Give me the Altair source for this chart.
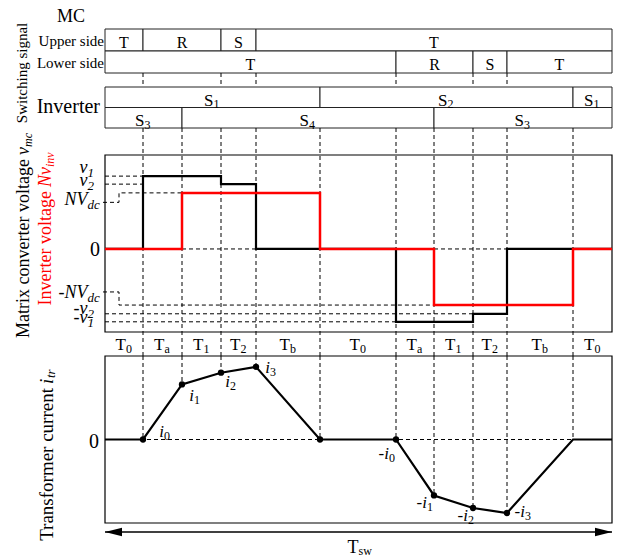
import altair as alt
import pandas as pd

# ---------------- data ----------------
# boundaries of the switching sub-intervals inside one switching period Tsw
t_bounds = [0, 38, 77, 116, 151, 215, 291, 329, 368, 402, 468, 507]
interval_base = ["T"] * 11
interval_sub = ["0", "a", "1", "2", "b", "0", "a", "1", "2", "b", "0"]

# matrix converter switching states
mc_rows = ["Upper side", "Lower side"]
mc_upper_edges = [0, 38, 116, 151, 507]
mc_upper_phase = ["T", "R", "S", "T"]
mc_lower_edges = [0, 291, 368, 402, 507]
mc_lower_phase = ["T", "R", "S", "T"]
mc_switch_t = [38, 116, 151, 291, 368, 402]

# inverter switching states
inv_rows = ["S1/S2 leg", "S3/S4 leg"]
inv_upper_edges = [0, 215, 468, 507]
inv_upper_sub = ["1", "2", "1"]
inv_lower_edges = [0, 77, 329, 507]
inv_lower_sub = ["3", "4", "3"]

# voltages (normalised to v1)
v1, v2, nvdc = 1.00, 0.89, 0.77
vmc_t = [0, 38, 116, 151, 291, 368, 402, 507]
vmc_v = [0, v1, v2, 0, -v1, -v2, 0, 0]
vinv_t = [0, 77, 215, 329, 468, 507]
vinv_v = [0, nvdc, 0, -nvdc, 0, 0]
v_lab_base = ["v", "v", "NV", "-NV", "-v", "-v"]
v_lab_sub = ["1", "2", "dc", "dc", "2", "1"]
v_lab_val = [v1, v2, nvdc, -nvdc, -v2, -v1]

# transformer current (normalised)
i_t = t_bounds
i_val = [0, 0, 0.66, 0.80, 0.87, 0, 0, -0.67, -0.82, -0.88, 0, 0]
i_dot_t = [38, 77, 116, 151, 215, 291, 329, 368, 402]
i_lab_t = [38, 77, 116, 151, 291, 329, 368, 402]
i_lab_base = ["i", "i", "i", "i", "-i", "-i", "-i", "-i"]
i_lab_sub = ["0", "1", "2", "3", "0", "1", "2", "3"]

tsw_t = [0, 507]

# ---------------- layout / style ----------------
SERIF = "Liberation Serif"
DASH = [4, 3]
RED = "#ff0000"
V_DOM = [-1.14, 1.29]
I_DOM = [-1.0, 1.0]
XS = alt.Scale(domain=[t_bounds[0], t_bounds[-1]], range=[105, 612])
VS = alt.Scale(domain=V_DOM, range=[332, 155])
IS = alt.Scale(domain=I_DOM, range=[523, 356])
MCS = alt.Scale(type="band", domain=mc_rows, range=[29, 73], paddingInner=0, paddingOuter=0)
INVS = alt.Scale(type="band", domain=inv_rows, range=[87, 128], paddingInner=0, paddingOuter=0)


def X(f):
    return alt.X(f, type="quantitative", scale=XS, axis=None)


def Yv(f):
    return alt.Y(f, type="quantitative", scale=VS, axis=None)


def Yi(f):
    return alt.Y(f, type="quantitative", scale=IS, axis=None)


def txt(text, x, y, size, align="center", angle=0, color="black", style="normal",
        dx=0, dy=0, baseline="middle"):
    kw = dict(font=SERIF, fontSize=size, align=align, baseline=baseline, color=color,
              fontStyle=style, dx=dx, dy=dy)
    if angle:
        kw["angle"] = angle
    return alt.Chart(pd.DataFrame({"s": [text]})).mark_text(**kw).encode(
        x=alt.value(x), y=alt.value(y), text="s:N")


layers = []

# ---- MC boxes
mc_df = pd.DataFrame({
    "row": [mc_rows[0]] * len(mc_upper_phase) + [mc_rows[1]] * len(mc_lower_phase),
    "start": mc_upper_edges[:-1] + mc_lower_edges[:-1],
    "end": mc_upper_edges[1:] + mc_lower_edges[1:],
    "phase": mc_upper_phase + mc_lower_phase,
})
mc_df["mid"] = (mc_df["start"] + mc_df["end"]) / 2
ymc = alt.Y("row:N", scale=MCS, axis=None)
layers.append(alt.Chart(mc_df).mark_rect(fill="white", stroke="#222", strokeWidth=1).encode(
    x=X("start"), x2="end", y=ymc))
layers.append(alt.Chart(mc_df).mark_text(font=SERIF, fontSize=16, baseline="alphabetic", dy=8,
                                          color="black").encode(x=X("mid"), y=ymc, text="phase:N"))
layers.append(alt.Chart(pd.DataFrame({"row": mc_rows})).mark_text(
    font=SERIF, fontSize=15, align="right", baseline="middle", dy=1, color="black").encode(
    x=alt.value(104), y=ymc, text="row:N"))

# ---- inverter boxes
inv_df = pd.DataFrame({
    "row": [inv_rows[0]] * len(inv_upper_sub) + [inv_rows[1]] * len(inv_lower_sub),
    "start": inv_upper_edges[:-1] + inv_lower_edges[:-1],
    "end": inv_upper_edges[1:] + inv_lower_edges[1:],
    "base": ["S"] * (len(inv_upper_sub) + len(inv_lower_sub)),
    "sub": inv_upper_sub + inv_lower_sub,
})
inv_df["mid"] = (inv_df["start"] + inv_df["end"]) / 2
yinv = alt.Y("row:N", scale=INVS, axis=None)
layers.append(alt.Chart(inv_df).mark_rect(fill="white", stroke="#222", strokeWidth=1).encode(
    x=X("start"), x2="end", y=yinv))
layers.append(alt.Chart(inv_df).mark_text(font=SERIF, fontSize=17, align="right", baseline="alphabetic",
                                           dx=1, dy=8.5, color="black").encode(
    x=X("mid"), y=yinv, text="base:N"))
layers.append(alt.Chart(inv_df).mark_text(font=SERIF, fontSize=12, align="left", baseline="alphabetic",
                                           dx=1, dy=11, color="black").encode(
    x=X("mid"), y=yinv, text="sub:N"))

# ---- vertical dashed guides
layers.append(alt.Chart(pd.DataFrame({"t": mc_switch_t})).mark_rule(
    color="black", strokeWidth=1, strokeDash=DASH).encode(x=X("t"), y=alt.value(73), y2=alt.value(87)))
layers.append(alt.Chart(pd.DataFrame({"t": t_bounds[1:-1]})).mark_rule(
    color="black", strokeWidth=1, strokeDash=DASH).encode(x=X("t"), y=alt.value(128), y2=alt.value(356)))

# ---- voltage panel
vframe = pd.DataFrame({"t0": [t_bounds[0]], "t1": [t_bounds[-1]], "lo": [V_DOM[0]], "hi": [V_DOM[1]]})
layers.append(alt.Chart(vframe).mark_rect(fill="white", fillOpacity=0, stroke="black", strokeWidth=1.2).encode(
    x=X("t0"), x2="t1", y=Yv("hi"), y2="lo"))

vref = pd.DataFrame({
    "t0": [0, 0, 0, 0, 0],
    "t1": [t_bounds[-1], vmc_t[1], vmc_t[1], vmc_t[5], vmc_t[4]],
    "v": [0, v1, v2, -v2, -v1],
})
layers.append(alt.Chart(vref).mark_rule(color="black", strokeWidth=1, strokeDash=DASH).encode(
    x=X("t0"), x2="t1", y=Yv("v")))

lead_t = [-2, 14, 14]
lead_v = [0.64, -0.59]
lead = pd.DataFrame({
    "g": ["p"] * 4 + ["n"] * 4,
    "k": [0, 1, 2, 3] * 2,
    "t": lead_t + [vinv_t[1]] + lead_t + [vinv_t[3]],
    "v": [lead_v[0], lead_v[0], nvdc, nvdc, lead_v[1], lead_v[1], -nvdc, -nvdc],
})
layers.append(alt.Chart(lead).mark_line(color="black", strokeWidth=1, strokeDash=DASH).encode(
    x=X("t"), y=Yv("v"), detail="g:N", order="k:Q"))

layers.append(alt.Chart(pd.DataFrame({"t": vmc_t, "v": vmc_v})).mark_line(
    interpolate="step-after", color="black", strokeWidth=2.2).encode(x=X("t"), y=Yv("v")))
layers.append(alt.Chart(pd.DataFrame({"t": vinv_t, "v": vinv_v})).mark_line(
    interpolate="step-after", color=RED, strokeWidth=2.5).encode(x=X("t"), y=Yv("v")))

v_lab_dy = [-3, 2, 12, -7, 0, 1]
for b, s, val, d in zip(v_lab_base, v_lab_sub, v_lab_val, v_lab_dy):
    df = pd.DataFrame({"v": [val], "b": [b], "s": [s]})
    layers.append(alt.Chart(df).mark_text(font=SERIF, fontStyle="italic", fontSize=18, align="right",
                                          baseline="alphabetic", dy=d, color="black").encode(
        x=alt.value(87.5), y=Yv("v"), text="b:N"))
    layers.append(alt.Chart(df).mark_text(font=SERIF, fontStyle="italic", fontSize=13, align="left",
                                          baseline="alphabetic", dy=d + 4, color="black").encode(
        x=alt.value(87.5), y=Yv("v"), text="s:N"))
layers.append(alt.Chart(pd.DataFrame({"v": [0], "s": ["0"]})).mark_text(
    font=SERIF, fontSize=20, align="right", baseline="alphabetic", dy=7, color="black").encode(
    x=alt.value(100), y=Yv("v"), text="s:N"))

# ---- interval labels
tl = pd.DataFrame({"mid": [(a + b) / 2 for a, b in zip(t_bounds[:-1], t_bounds[1:])],
                   "b": interval_base, "s": interval_sub})
layers.append(alt.Chart(tl).mark_text(font=SERIF, fontSize=17, align="right", baseline="alphabetic",
                                      dx=2, color="black").encode(x=X("mid"), y=alt.value(350), text="b:N"))
layers.append(alt.Chart(tl).mark_text(font=SERIF, fontSize=12, align="left", baseline="alphabetic",
                                      dx=2, color="black").encode(x=X("mid"), y=alt.value(353), text="s:N"))

# ---- current panel
iframe = pd.DataFrame({"t0": [t_bounds[0]], "t1": [t_bounds[-1]], "lo": [I_DOM[0]], "hi": [I_DOM[1]]})
layers.append(alt.Chart(iframe).mark_rect(fill="white", fillOpacity=0, stroke="black", strokeWidth=1.2).encode(
    x=X("t0"), x2="t1", y=Yi("hi"), y2="lo"))
layers.append(alt.Chart(pd.DataFrame({"t0": [t_bounds[0]], "t1": [t_bounds[-1]], "i": [0]})).mark_rule(
    color="black", strokeWidth=1, strokeDash=DASH).encode(x=X("t0"), x2="t1", y=Yi("i")))
ival = dict(zip(i_t, i_val))
iguide = pd.DataFrame({"t": t_bounds[1:-1], "top": [I_DOM[1]] * (len(t_bounds) - 2),
                       "i": [ival[t] for t in t_bounds[1:-1]]})
layers.append(alt.Chart(iguide).mark_rule(color="black", strokeWidth=1, strokeDash=DASH).encode(
    x=X("t"), y=Yi("top"), y2="i"))
layers.append(alt.Chart(pd.DataFrame({"t": i_t, "i": i_val})).mark_line(
    color="black", strokeWidth=2.2).encode(x=X("t"), y=Yi("i")))
layers.append(alt.Chart(pd.DataFrame({"t": i_dot_t, "i": [ival[t] for t in i_dot_t]})).mark_circle(
    size=40, color="black", opacity=1).encode(x=X("t"), y=Yi("i")))

i_lab_dx = [21, 12, 9, 14, -7, -7, -5, 18]
i_lab_dy = [-3, 17, 14, 6, 19, 13, 13, 4]
for t, b, s, ddx, ddy in zip(i_lab_t, i_lab_base, i_lab_sub, i_lab_dx, i_lab_dy):
    df = pd.DataFrame({"t": [t], "i": [ival[t]], "b": [b], "s": [s]})
    layers.append(alt.Chart(df).mark_text(font=SERIF, fontStyle="italic", fontSize=17, align="right",
                                          baseline="alphabetic", dx=ddx, dy=ddy, color="black").encode(
        x=X("t"), y=Yi("i"), text="b:N"))
    layers.append(alt.Chart(df).mark_text(font=SERIF, fontSize=12, align="left",
                                          baseline="alphabetic", dx=ddx, dy=ddy + 3, color="black").encode(
        x=X("t"), y=Yi("i"), text="s:N"))
layers.append(alt.Chart(pd.DataFrame({"i": [0], "s": ["0"]})).mark_text(
    font=SERIF, fontSize=20, align="right", baseline="alphabetic", dy=8, color="black").encode(
    x=alt.value(99), y=Yi("i"), text="s:N"))

# ---- Tsw arrow
layers.append(alt.Chart(pd.DataFrame({"t0": [tsw_t[0]], "t1": [tsw_t[1]]})).mark_rule(
    color="black", strokeWidth=1.3).encode(x=X("t0"), x2="t1", y=alt.value(532)))
layers.append(alt.Chart(pd.DataFrame({"t": [tsw_t[1]]})).mark_point(
    shape="M0,0 L-2,-0.5 L-2,0.5 Z", size=289, filled=True, fill="black", strokeWidth=0, opacity=1).encode(
    x=X("t"), y=alt.value(532)))
layers.append(alt.Chart(pd.DataFrame({"t": [tsw_t[0]]})).mark_point(
    shape="M0,0 L2,-0.5 L2,0.5 Z", size=289, filled=True, fill="black", strokeWidth=0, opacity=1).encode(
    x=X("t"), y=alt.value(532)))
tsw_mid = pd.DataFrame({"t": [(tsw_t[0] + tsw_t[1]) / 2], "b": ["T"], "s": ["sw"]})
layers.append(alt.Chart(tsw_mid).mark_text(font=SERIF, fontSize=18, align="right", baseline="alphabetic",
                                           color="black").encode(x=X("t"), y=alt.value(553), text="b:N"))
layers.append(alt.Chart(tsw_mid).mark_text(font=SERIF, fontSize=12, align="left", baseline="alphabetic",
                                           color="black").encode(x=X("t"), y=alt.value(555), text="s:N"))

# ---- titles / side labels
layers.append(txt("MC", 71, 17, 18))
layers.append(txt("Inverter", 100, 107, 20, align="right"))
layers.append(txt("Switching signal", 22, 73, 15, angle=270))
layers.append(txt("Matrix converter voltage", 24, 159, 18, align="right", angle=270))
layers.append(txt("v", 24, 159, 18, align="left", angle=270, style="italic", dx=4))
layers.append(txt("mc", 24, 159, 12, align="left", angle=270, style="italic", dx=12, dy=4))
layers.append(txt("Inverter voltage", 46, 191, 18, align="right", angle=270, color=RED))
layers.append(txt("Nv", 46, 191, 18, align="left", angle=270, color=RED, style="italic", dx=4))
layers.append(txt("inv", 46, 191, 12, align="left", angle=270, color=RED, style="italic", dx=24, dy=4))
layers.append(txt("Transformer current", 47, 388, 19, align="right", angle=270))
layers.append(txt("i", 47, 388, 19, align="left", angle=270, style="italic", dx=4))
layers.append(txt("tr", 47, 388, 13, align="left", angle=270, style="italic", dx=10, dy=4))

chart = alt.layer(*layers).resolve_scale(y="independent").properties(
    width=632, height=560, padding=0, autosize=alt.AutoSizeParams(type="none"),
    background="white",
).configure_view(stroke=None)

chart.save("out.html", embed_options={"renderer": "svg", "actions": False})
